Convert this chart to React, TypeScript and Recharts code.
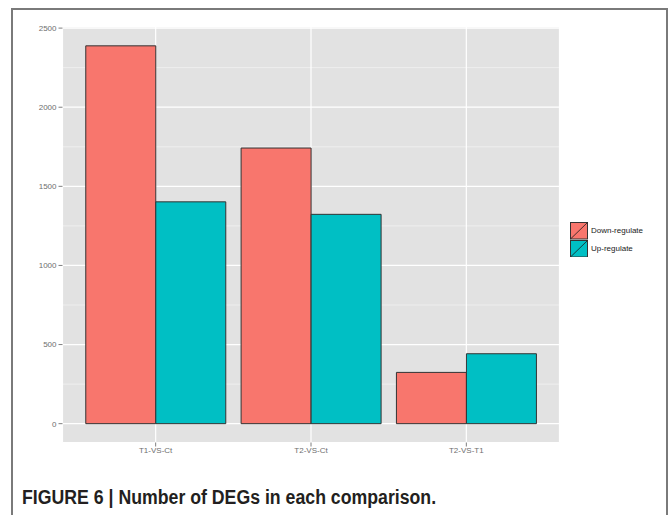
import React from 'react';
import { BarChart, Bar, XAxis, YAxis, CartesianGrid, Legend } from 'recharts';

const categories = ['T1-VS-Ct', 'T2-VS-Ct', 'T2-VS-T1'];
const downRegulate = [2388, 1742, 324];
const upRegulate = [1402, 1323, 442];
const seriesNames = ['Down-regulate', 'Up-regulate'];
const seriesColors = ['#F8766D', '#00BFC4'];
const majorTicks = [0, 500, 1000, 1500, 2000, 2500];
const minorTicks = [250, 750, 1250, 1750, 2250];
const yDomain = [-119, 2507];
const caption = 'FIGURE 6 | Number of DEGs in each comparison.';

const data = categories.map((c, i) => ({ name: c, down: downRegulate[i], up: upRegulate[i] }));

const FONT = '"Liberation Sans", Arial, Helvetica, sans-serif';

const renderLegend = (props: any) => {
  const payload = props.payload || [];
  return (
    <div style={{ fontFamily: FONT }}>
      {payload.map((p: any, i: number) => (
        <div key={i} style={{ display: 'flex', alignItems: 'center', height: 17.5 }}>
          <svg width={18} height={17.5} style={{ display: 'block' }}>
            <rect x={0.5} y={0.5} width={17} height={16.5} fill={p.color} stroke="#333333" strokeWidth={1} />
            <line x1={0.5} y1={17} x2={17.5} y2={0.5} stroke="#1a1a1a" strokeWidth={0.8} />
          </svg>
          <span style={{ fontSize: 8, color: '#1a1a1a', marginLeft: 3 }}>{p.value}</span>
        </div>
      ))}
    </div>
  );
};

export default function App() {
  return (
    <div style={{ position: 'absolute', left: 0, top: 0, width: 670, height: 515, overflow: 'hidden', background: '#fff' }}>
      <div
        style={{
          position: 'absolute',
          left: 11,
          top: 8,
          width: 653,
          height: 530,
          border: '2px solid #7a7a7a',
        }}
      />
      <div style={{ position: 'absolute', left: 0, top: 0 }}>
        <BarChart
          width={670}
          height={515}
          data={data}
          margin={{ top: 27, right: 110.5, bottom: 42.5, left: 0 }}
          barGap={0}
          barCategoryGap="5%"
        >
          <CartesianGrid
            yAxisId="major"
            vertical={false}
            horizontal={true}
            horizontalValues={minorTicks}
            fill="#E2E2E2"
            stroke="#F3F3F3"
            strokeWidth={0.8}
          />
          <CartesianGrid yAxisId="major" vertical={true} horizontal={true} stroke="#FFFFFF" strokeWidth={1.2} fill="none" />
          <XAxis
            dataKey="name"
            axisLine={false}
            tickLine={{ stroke: '#7f7f7f' }}
            tickSize={4}
            tickMargin={1}
            height={30}
            padding={{ left: 15.5, right: 15.5 }}
            tick={{ fill: '#6e6e6e', fontSize: 8, fontFamily: FONT }}
            interval={0}
          />
          <YAxis
            yAxisId="major"
            type="number"
            domain={yDomain}
            ticks={majorTicks}
            axisLine={false}
            tickLine={{ stroke: '#7f7f7f' }}
            tickSize={4}
            tickMargin={2}
            width={62.5}
            tick={{ fill: '#6e6e6e', fontSize: 8, fontFamily: FONT }}
            interval={0}
          />
          <Legend
            layout="vertical"
            align="center"
            verticalAlign="middle"
            content={renderLegend}
            wrapperStyle={{ left: 570, top: 222, width: 100 }}
          />
          <Bar
            yAxisId="major"
            dataKey="down"
            name={seriesNames[0]}
            fill={seriesColors[0]}
            stroke="#333333"
            strokeWidth={1}
            isAnimationActive={false}
          />
          <Bar
            yAxisId="major"
            dataKey="up"
            name={seriesNames[1]}
            fill={seriesColors[1]}
            stroke="#333333"
            strokeWidth={1}
            isAnimationActive={false}
          />
        </BarChart>
      </div>
      <div
        style={{
          position: 'absolute',
          left: 22,
          top: 486,
          fontFamily: FONT,
          fontWeight: 'bold',
          fontSize: 20,
          color: '#231F20',
          whiteSpace: 'nowrap',
          transform: 'scaleX(0.885)',
          transformOrigin: 'left top',
        }}
      >
        {caption}
      </div>
    </div>
  );
}
